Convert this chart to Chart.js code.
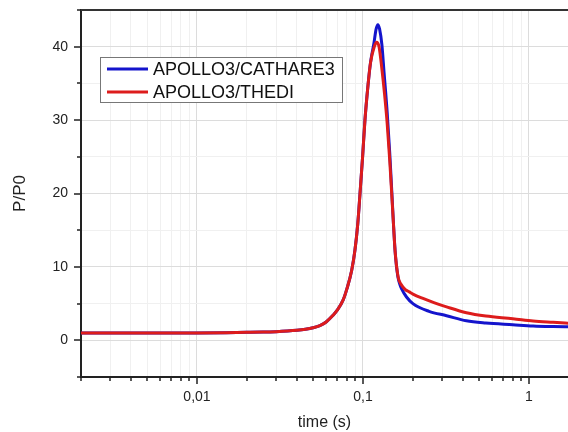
<!DOCTYPE html>
<html>
<head>
<meta charset="utf-8">
<script src="https://cdn.jsdelivr.net/npm/chart.js@4"></script>
<style>
html, body { margin: 0; padding: 0; background: #fff; }
#wrap { width: 568px; height: 432px; }
</style>
</head>
<body>
<div id="wrap"><canvas id="powerChart" width="568" height="432"></canvas></div>
<script>
// values
const seriesNames = ['APOLLO3/CATHARE3', 'APOLLO3/THEDI'];

const riseTime = [0.002, 0.004, 0.007, 0.01, 0.015, 0.02, 0.025, 0.03, 0.035, 0.04, 0.045, 0.05,
    0.055, 0.06, 0.066, 0.07, 0.076, 0.08, 0.0855, 0.0895, 0.093, 0.096, 0.0995, 0.1028, 0.107, 0.111];
const riseP = [1.0, 1.0, 1.0, 1.01, 1.04, 1.08, 1.12, 1.18, 1.26, 1.36, 1.5, 1.7,
    2.0, 2.5, 3.4, 4.1, 5.5, 7.0, 9.5, 12.3, 15.8, 20, 25, 30, 34.5, 37.8];

const cathareTime = [0.1165, 0.12, 0.123, 0.126, 0.13, 0.134, 0.14, 0.145, 0.149, 0.153, 0.157, 0.162,
    0.167, 0.171, 0.183, 0.2, 0.25, 0.319, 0.42, 0.55, 0.8, 1.06, 1.4, 1.8];
const catharePd = [40.5, 42.4, 43.0, 42.4, 40.3, 36.5, 31, 25.5, 20.5, 15.5, 11.5, 8.8,
    7.6, 7.0, 5.9, 5.0, 3.95, 3.35, 2.65, 2.35, 2.12, 1.95, 1.87, 1.83];

const thediTime = [0.117, 0.121, 0.125, 0.13, 0.135, 0.14, 0.145, 0.149, 0.153, 0.156, 0.163, 0.17,
    0.18, 0.19, 0.2, 0.23, 0.27, 0.319, 0.42, 0.55, 0.8, 1.06, 1.4, 1.8];
const thediP = [40.0, 40.6, 40.0, 37.0, 33.5, 29.5, 24.5, 20, 15.5, 12.3, 8.6, 7.6,
    6.9, 6.6, 6.3, 5.7, 5.1, 4.55, 3.75, 3.3, 2.95, 2.63, 2.45, 2.3];

const xMajorTicks = [0.01, 0.1, 1];
const xTickLabels = ['0,01', '0,1', '1'];
const yMajorTicks = [0, 10, 20, 30, 40];

const X_MIN = 0.002, X_MAX = 1.72;

function toPoints(ts, vs) {
    return ts.map((t, i) => ({ x: t, y: vs[i] }));
}

// minor + major ticks of the log axis
const xTicks = [];
for (let d = -3; d <= 0; d++) {
    for (let m = 1; m <= 9; m++) {
        const v = parseFloat((m * Math.pow(10, d)).toPrecision(3));
        if (v >= X_MIN && v <= X_MAX) xTicks.push(v);
    }
}

const axisDecor = {
    id: 'axisDecor',
    afterDraw(chart) {
        const { ctx, chartArea, scales } = chart;
        ctx.save();
        ctx.strokeStyle = '#222';
        ctx.lineWidth = 1.5;
        ctx.beginPath();
        scales.x.ticks.forEach(t => {
            const px = Math.round(scales.x.getPixelForValue(t.value));
            const len = xMajorTicks.includes(t.value) ? 7 : 4;
            ctx.moveTo(px, chartArea.bottom);
            ctx.lineTo(px, chartArea.bottom + len);
        });
        scales.y.ticks.forEach(t => {
            const py = Math.round(scales.y.getPixelForValue(t.value));
            const len = yMajorTicks.includes(t.value) ? 7 : 4;
            ctx.moveTo(chartArea.left, py);
            ctx.lineTo(chartArea.left - len, py);
        });
        ctx.stroke();

        // top frame
        ctx.strokeStyle = '#333';
        ctx.lineWidth = 2;
        ctx.beginPath();
        ctx.moveTo(chartArea.left, chartArea.top);
        ctx.lineTo(chartArea.right, chartArea.top);
        ctx.stroke();

        // legend box
        const bx = 100, by = 57, bw = 242, bh = 45;
        ctx.fillStyle = '#fff';
        ctx.fillRect(bx, by, bw, bh);
        ctx.strokeStyle = '#777';
        ctx.lineWidth = 1;
        ctx.strokeRect(bx + 0.5, by + 0.5, bw, bh);
        ctx.font = '18px "Liberation Sans", Arial, sans-serif';
        ctx.textBaseline = 'middle';
        chart.data.datasets.forEach((ds, i) => {
            const y = by + 12 + i * 23;
            ctx.strokeStyle = ds.borderColor;
            ctx.lineWidth = 3;
            ctx.beginPath();
            ctx.moveTo(107, y);
            ctx.lineTo(148, y);
            ctx.stroke();
            ctx.fillStyle = '#111';
            ctx.fillText(ds.label, 153, y + 1);
        });
        ctx.restore();
    }
};

Chart.defaults.font.family = '"Liberation Sans", Arial, sans-serif';
Chart.defaults.color = '#222';

const ctx = document.getElementById('powerChart').getContext('2d');
const powerChart = new Chart(ctx, {
    type: 'line',
    data: {
        datasets: [
            {
                label: seriesNames[0],
                data: toPoints(riseTime.concat(cathareTime), riseP.concat(catharePd)),
                borderColor: '#1414cc',
                borderWidth: 3,
                pointRadius: 0,
                cubicInterpolationMode: 'monotone',
                order: 2
            },
            {
                label: seriesNames[1],
                data: toPoints(riseTime.concat(thediTime), riseP.concat(thediP)),
                borderColor: '#dd1c1c',
                borderWidth: 3,
                pointRadius: 0,
                cubicInterpolationMode: 'monotone',
                order: 1
            }
        ]
    },
    options: {
        responsive: false,
        animation: false,
        layout: { padding: { top: 10, right: 0, left: 0, bottom: 0 } },
        plugins: { legend: { display: false }, tooltip: { enabled: false } },
        scales: {
            x: {
                type: 'logarithmic',
                min: X_MIN,
                max: X_MAX,
                afterBuildTicks: scale => {
                    scale.ticks = xTicks.map(v => ({ value: v, major: xMajorTicks.includes(v) }));
                },
                afterFit: scale => {
                    scale.height = 55;
                    scale.paddingLeft = 0;
                    scale.paddingRight = 0;
                },
                ticks: {
                    autoSkip: false,
                    maxRotation: 0,
                    padding: 12,
                    font: { size: 14 },
                    callback: v => {
                        const i = xMajorTicks.indexOf(v);
                        return i >= 0 ? xTickLabels[i] : '';
                    }
                },
                grid: {
                    drawTicks: false,
                    color: c => (c.tick && xMajorTicks.includes(c.tick.value)) ? '#dcdcdc' : '#f0f0f0'
                },
                border: { display: true, color: '#222', width: 2 },
                title: { display: true, text: 'time (s)', font: { size: 16 }, padding: 0 }
            },
            y: {
                min: -5,
                max: 45,
                afterFit: scale => {
                    scale.width = 81;
                    scale.paddingTop = 0;
                    scale.paddingBottom = 0;
                },
                ticks: {
                    stepSize: 5,
                    padding: 13,
                    font: { size: 14 },
                    callback: v => yMajorTicks.includes(v) ? String(v) : ''
                },
                grid: {
                    drawTicks: false,
                    color: c => (c.tick && yMajorTicks.includes(c.tick.value)) ? '#dcdcdc' : '#f0f0f0'
                },
                border: { display: true, color: '#222', width: 2 },
                title: { display: true, text: 'P/P0', font: { size: 17 }, padding: { top: 10, bottom: 0 } }
            }
        }
    },
    plugins: [axisDecor]
});
</script>
</body>
</html>
